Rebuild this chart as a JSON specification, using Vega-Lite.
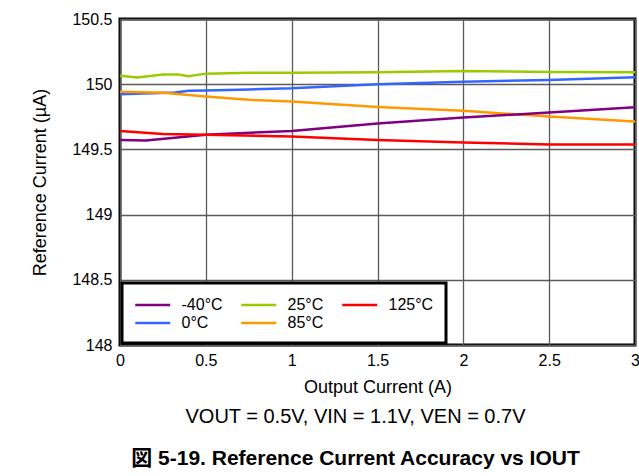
{
  "$schema": "https://vega.github.io/schema/vega-lite/v6.json",
  "autosize": "none",
  "width": 515,
  "height": 326,
  "padding": {"left": 120, "top": 19, "right": 4, "bottom": 131},
  "background": "white",
  "config": {
    "font": "Liberation Sans, Noto Sans CJK JP",
    "view": {"stroke": "black", "strokeWidth": 3},
    "legend": {"strokeWidth": 3},
    "axis": {
      "domain": false,
      "ticks": false,
      "grid": true,
      "gridColor": "#5a5a5a",
      "gridWidth": 1.3,
      "labelFont": "Liberation Sans",
      "labelFontSize": 16,
      "labelColor": "black",
      "titleFont": "Liberation Sans",
      "titleFontSize": 18,
      "titleFontWeight": "normal",
      "titleColor": "black"
    }
  },
  "title": {
    "text": "VOUT = 0.5V, VIN = 1.1V, VEN = 0.7V",
    "subtitle": "図 5-19. Reference Current Accuracy vs IOUT",
    "orient": "bottom",
    "anchor": "middle",
    "dx": -22,
    "offset": 11,
    "font": "Liberation Sans, Noto Sans CJK JP",
    "fontSize": 20,
    "fontWeight": "normal",
    "color": "black",
    "subtitleFont": "Liberation Sans, Noto Sans CJK JP",
    "subtitleFontSize": 21,
    "subtitleFontWeight": "bold",
    "subtitleColor": "black",
    "subtitlePadding": 21
  },
  "data": {
    "values": [
      {"I": 0, "T": "25°C", "R": 150.064},
      {"I": 0.1, "T": "25°C", "R": 150.051},
      {"I": 0.25, "T": "25°C", "R": 150.074},
      {"I": 0.34, "T": "25°C", "R": 150.074},
      {"I": 0.4, "T": "25°C", "R": 150.061},
      {"I": 0.5, "T": "25°C", "R": 150.081},
      {"I": 0.75, "T": "25°C", "R": 150.087},
      {"I": 1, "T": "25°C", "R": 150.087},
      {"I": 1.5, "T": "25°C", "R": 150.092},
      {"I": 2, "T": "25°C", "R": 150.102},
      {"I": 2.5, "T": "25°C", "R": 150.094},
      {"I": 3, "T": "25°C", "R": 150.092},
      {"I": 0, "T": "0°C", "R": 149.923},
      {"I": 0.32, "T": "0°C", "R": 149.936},
      {"I": 0.4, "T": "0°C", "R": 149.95},
      {"I": 0.5, "T": "0°C", "R": 149.951},
      {"I": 0.75, "T": "0°C", "R": 149.96},
      {"I": 1, "T": "0°C", "R": 149.968},
      {"I": 1.5, "T": "0°C", "R": 150.0},
      {"I": 2, "T": "0°C", "R": 150.018},
      {"I": 2.5, "T": "0°C", "R": 150.033},
      {"I": 3, "T": "0°C", "R": 150.054},
      {"I": 0, "T": "85°C", "R": 149.943},
      {"I": 0.25, "T": "85°C", "R": 149.935},
      {"I": 0.5, "T": "85°C", "R": 149.905},
      {"I": 0.75, "T": "85°C", "R": 149.88},
      {"I": 1, "T": "85°C", "R": 149.867},
      {"I": 1.5, "T": "85°C", "R": 149.826},
      {"I": 2, "T": "85°C", "R": 149.796},
      {"I": 2.5, "T": "85°C", "R": 149.752},
      {"I": 3, "T": "85°C", "R": 149.714},
      {"I": 0, "T": "-40°C", "R": 149.573},
      {"I": 0.15, "T": "-40°C", "R": 149.568},
      {"I": 0.5, "T": "-40°C", "R": 149.612},
      {"I": 1, "T": "-40°C", "R": 149.642},
      {"I": 1.5, "T": "-40°C", "R": 149.698},
      {"I": 2, "T": "-40°C", "R": 149.744},
      {"I": 2.5, "T": "-40°C", "R": 149.783},
      {"I": 3, "T": "-40°C", "R": 149.824},
      {"I": 0, "T": "125°C", "R": 149.642},
      {"I": 0.25, "T": "125°C", "R": 149.619},
      {"I": 0.5, "T": "125°C", "R": 149.612},
      {"I": 1, "T": "125°C", "R": 149.599},
      {"I": 1.5, "T": "125°C", "R": 149.573},
      {"I": 2, "T": "125°C", "R": 149.553},
      {"I": 2.5, "T": "125°C", "R": 149.537},
      {"I": 3, "T": "125°C", "R": 149.537}
    ]
  },
  "mark": {"type": "line", "strokeWidth": 2.5, "clip": true},
  "encoding": {
    "x": {
      "field": "I",
      "type": "quantitative",
      "scale": {"domain": [0, 3], "nice": false},
      "axis": {
        "values": [0, 0.5, 1, 1.5, 2, 2.5, 3],
        "format": "~f",
        "title": "Output Current (A)",
        "labelPadding": 7,
        "titlePadding": 10,
        "labelFlush": false,
        "labelOverlap": false
      }
    },
    "y": {
      "field": "R",
      "type": "quantitative",
      "scale": {"domain": [148, 150.5], "nice": false, "zero": false},
      "axis": {
        "values": [148, 148.5, 149, 149.5, 150, 150.5],
        "format": "~f",
        "title": "Reference Current (µA)",
        "labelPadding": 8,
        "titlePadding": 22
      }
    },
    "color": {
      "field": "T",
      "type": "nominal",
      "scale": {
        "domain": ["-40°C", "0°C", "25°C", "85°C", "125°C"],
        "range": ["#800080", "#3366ff", "#99cc00", "#ff9900", "#ff0000"]
      },
      "legend": {
        "title": null,
        "orient": "bottom-left",
        "offset": 2,
        "columns": 3,
        "symbolType": "M-1,0L3,0",
        "symbolSize": 306,
        "symbolStrokeWidth": 2.5,
        "labelFontSize": 16,
        "labelColor": "black",
        "labelOffset": 27.5,
        "columnPadding": 13,
        "rowPadding": -2.5,
        "padding": 12,
        "strokeColor": "black",
        "fillColor": "white",
        "gridAlign": "each"
      }
    }
  }
}
